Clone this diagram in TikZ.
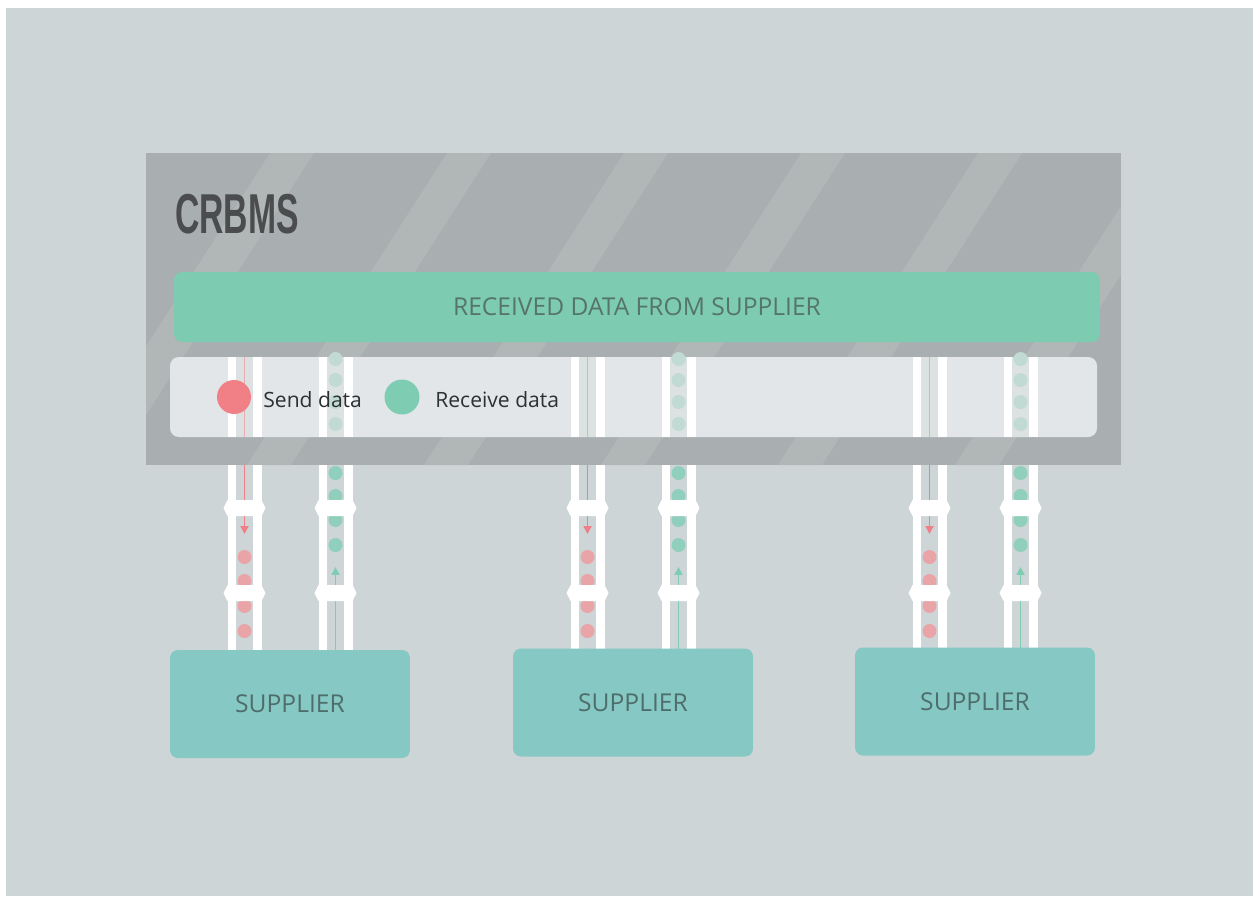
\documentclass[tikz,border=0pt]{standalone}
\usepackage{fontspec}
\setmainfont{Open Sans}
\newfontfamily\titlefont{Liberation Sans}
\usetikzlibrary{arrows.meta}
\definecolor{bggray}{HTML}{CDD5D7}
\definecolor{panelgray}{HTML}{A9AEB0}
\definecolor{stripegray}{HTML}{B1B6B7}
\definecolor{legendgray}{HTML}{E2E6E8}
\definecolor{pipeinner}{HTML}{DCE1E2}
\definecolor{bargreen}{HTML}{7DCCB1}
\definecolor{boxteal}{HTML}{86C9C4}
\definecolor{sendred}{HTML}{F08086}
\definecolor{senddot}{HTML}{E9A4A8}
\definecolor{recvgreen}{HTML}{7ECDB2}
\definecolor{recvdot}{HTML}{90CFBB}
\definecolor{titlegray}{HTML}{4A4C4E}
\definecolor{bartext}{HTML}{56756A}
\definecolor{boxtext}{HTML}{4E6D6B}
\definecolor{legendink}{HTML}{2E3133}
\tikzset{
    bar/.style={fill=bargreen, rounded corners=4.5pt, minimum width=18.52cm, minimum height=1.4cm,
        text=bartext, font=\fontsize{14}{16}\selectfont},
    supplier/.style={fill=boxteal, rounded corners=4.5pt, minimum width=4.8cm, minimum height=2.16cm,
        text=boxtext, font=\fontsize{14}{16}\selectfont},
    legendtext/.style={anchor=base west, inner sep=0, text=legendink, font=\fontsize{12}{14}\selectfont},
    flow/.style={line width=1.1pt, -{Triangle[width=4.5pt, length=4.5pt]}}
}
\begin{document}
\begin{tikzpicture}[x=0.02cm, y=-0.02cm]
        \fill[white] (0, 0) rectangle (1253, 896);
        \fill[bggray] (6, 8) rectangle (1253, 896);
        \fill[panelgray] (146, 153) rectangle (1121, 465);
        \begin{scope}
            \clip (146, 153) rectangle (1121, 465);
            \foreach \t in {270, 447, 624, 801, 978, 1155}
                \fill[stripegray] (\t, 153) -- (\t+44, 153) -- (\t-156, 465) -- (\t-200, 465) -- cycle;
        \end{scope}
        \node[anchor=base west, inner sep=0, text=titlegray, xscale=0.6,
            font=\titlefont\bfseries\fontsize{32}{32}\selectfont] (title) at (175, 233) {CRBMS};
        \node[bar] (received) at (637, 307) {RECEIVED DATA FROM SUPPLIER};
        \fill[legendgray, rounded corners=5pt] (170, 357) rectangle (1097, 437);
        \foreach \c in {290, 633, 975} {
            \foreach \p in {\c-45.5, \c+45.5} {
                \fill[white] (\p-17, 357) rectangle (\p+17, 437);
                \fill[pipeinner] (\p-8.5, 357) rectangle (\p+8.5, 437);
                \fill[white] (\p-17, 465) rectangle (\p+17, 650);
                \fill[bggray] (\p-8.5, 465) rectangle (\p+8.5, 650);
            }
            \draw[sendred!55!pipeinner, line width=0.8pt] (\c-45.5, 357) -- (\c-45.5, 437);
            \draw[flow, sendred] (\c-45.5, 465) -- (\c-45.5, 534);
            \foreach \y in {557, 581, 606, 631}
                \fill[senddot] (\c-45.5, \y) circle (0.14cm);
            \foreach \y in {359, 380, 402, 424}
                \fill[recvdot!35!pipeinner] (\c+45.5, \y) circle (0.14cm);
            \foreach \y in {473, 496, 520, 545}
                \fill[recvdot] (\c+45.5, \y) circle (0.14cm);
            \draw[flow, recvgreen] (\c+45.5, 650) -- (\c+45.5, 567);
            \foreach \p in {\c-45.5, \c+45.5}
                \foreach \y in {508, 593}
                    \fill[white] (\p-21, \y) -- (\p-17, \y-8) -- (\p+17, \y-8) -- (\p+21, \y)
                        -- (\p+17, \y+8) -- (\p-17, \y+8) -- cycle;
        }
        \fill[sendred] (234, 397) circle (0.34cm);
        \node[legendtext] (send) at (263, 407) {Send data};
        \fill[recvgreen] (402, 397) circle (0.35cm);
        \node[legendtext] (receive) at (435, 407) {Receive data};
        \foreach \c/\m [count=\i] in {290/704, 633/702.5, 975/701.5}
            \node[supplier] (sup\i) at (\c, \m) {SUPPLIER};
\end{tikzpicture}
\end{document}
